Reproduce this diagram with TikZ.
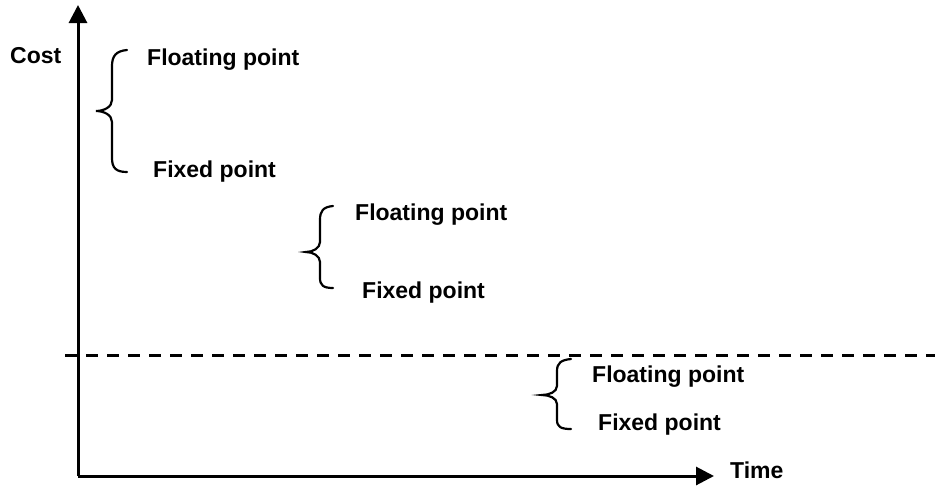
\documentclass[tikz,border=0pt]{standalone}
\usepackage{fontspec}
\setmainfont{Liberation Sans}
\usetikzlibrary{arrows.meta}
\begin{document}
\begin{tikzpicture}[x=1pt,y=-1pt,
  lbl/.style={font=\fontsize{23}{26}\selectfont\bfseries, inner sep=0pt, anchor=base west},
  axis/.style={line width=3pt, -{Triangle[length=18pt,width=18pt]}},
  brace/.style={line width=2.2pt, line cap=round}]
\useasboundingbox (0,0) rectangle (935,485);
\coordinate (O) at (78,476);
\coordinate (Ytip) at (78,5);
\coordinate (Xtip) at (714,476);
\coordinate (dL) at (65,355);
\coordinate (dR) at (935,355);
\draw[axis] (O) -- (Ytip);
\draw[axis] (O) -- (Xtip);
\draw[line width=3pt, dash pattern=on 12pt off 9pt] (dL) -- (dR);
\node[lbl] (cost) at (10,63) {Cost};
\node[lbl] (time) at (730,478) {Time};
% group 1
\node[lbl] (fl1) at (147,65) {Floating point};
\node[lbl] (fx1) at (153,177) {Fixed point};
\draw[brace] (127,50) .. controls (116,51) and (112,56) .. (112,66) -- (112,100)
  .. controls (112,107) and (104,111) .. (96,111)
  .. controls (104,111) and (112,115) .. (112,122) -- (112,158)
  .. controls (112,168) and (116,172) .. (127,172);
% group 2
\node[lbl] (fl2) at (355,220) {Floating point};
\node[lbl] (fx2) at (362,298) {Fixed point};
\draw[brace] (333,206) .. controls (323,207) and (320,211) .. (320,220) -- (320,242)
  .. controls (320,248) and (313,252) .. (306,252)
  .. controls (313,252) and (320,256) .. (320,262) -- (320,278)
  .. controls (320,285) and (323,288) .. (333,288);
% group 3
\node[lbl] (fl3) at (592,382) {Floating point};
\node[lbl] (fx3) at (598,430) {Fixed point};
\draw[brace] (571,359) .. controls (561,360) and (557,363) .. (557,371) -- (557,386)
  .. controls (557,392) and (549,395) .. (542,395)
  .. controls (549,395) and (557,398) .. (557,404) -- (557,420)
  .. controls (557,427) and (561,429) .. (571,429);
\end{tikzpicture}
\end{document}
